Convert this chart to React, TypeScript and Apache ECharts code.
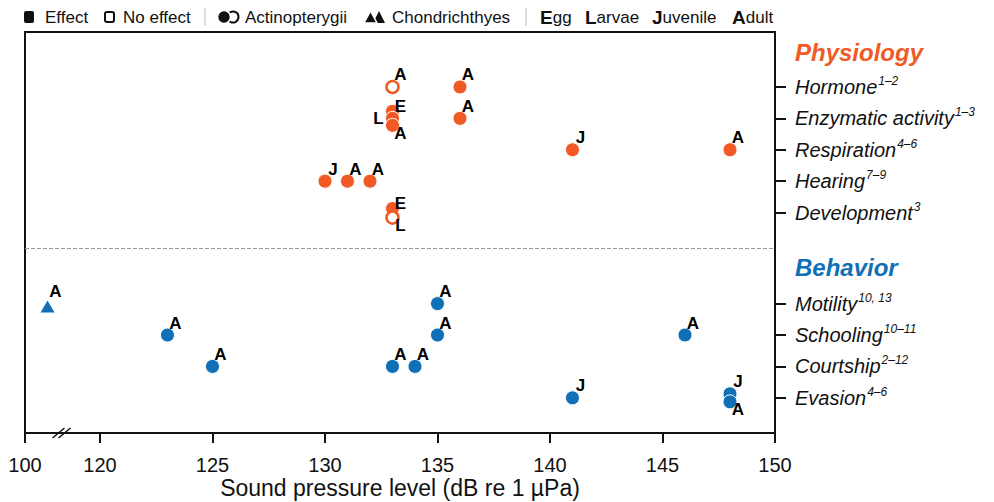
import React, { useEffect, useRef } from "react";
import * as echarts from "echarts";

// ---------- data ----------
const physioRows = ["Hormone", "Enzymatic activity", "Respiration", "Hearing", "Development"];
const physioRefs = ["1–2", "1–3", "4–6", "7–9", "3"];
const behavRows = ["Motility", "Schooling", "Courtship", "Evasion"];
const behavRefs = ["10, 13", "10–11", "2–12", "4–6"];

const physioLevel = [133, 136, 133, 133, 133, 136, 141, 148, 130, 131, 132, 133, 133];
const physioRow = [0, 0, 1, 1, 1, 1, 2, 2, 3, 3, 3, 4, 4];
const physioStage = ["A", "A", "E", "L", "A", "A", "J", "A", "J", "A", "A", "E", "L"];
const physioEffect = [false, true, true, true, true, true, true, true, true, true, true, true, false];

const behavLevel = [106, 135, 123, 135, 146, 125, 133, 134, 141, 148, 148];
const behavRow = [0, 0, 1, 1, 1, 2, 2, 2, 3, 3, 3];
const behavStage = ["A", "A", "A", "A", "A", "A", "A", "A", "J", "J", "A"];
const behavEffect = [true, true, true, true, true, true, true, true, true, true, true];
const behavTaxon = ["chond", "actino", "actino", "actino", "actino", "actino", "actino", "actino", "actino", "actino", "actino"];

const xTickLabels = [100, 120, 125, 130, 135, 140, 145, 150];

// ---------- layout / style ----------
const ORANGE = "#F15A24";
const BLUE = "#0F70B7";
const INK = "#111111";
const FONT = "'Liberation Sans', Arial, sans-serif";

const physioRowPos = [1, 2, 3, 4, 5];
const behavRowPos = [7.9, 8.9, 9.9, 10.9];
const physioHeaderPos = -0.1;
const behavHeaderPos = 6.75;
const separatorPos = 6.15;
const Y_MIN = -0.75;
const Y_MAX = 12.02;

// overlap stacking (px) and label placement for crowded points
const physioJitter = [0, 0, -7, 0, 7, 0, 0, 0, 0, 0, 0, -4, 5];
const physioLabelPos = ["ur", "ur", "r", "l", "br", "ur", "ur", "ur", "ur", "ur", "ur", "r", "br"];
const behavJitter = [3, 0, 0, 0, 0, 0, 0, 0, 0, -4, 4];
const behavLabelPos = ["tri", "ur", "ur", "ur", "ur", "ur", "ur", "ur", "ur", "ur", "br"];
const LABEL_OFFSETS: Record<string, number[]> = {
  ur: [8, -12],
  r: [8, -5],
  l: [-14, 0],
  br: [8, 8],
  tri: [8, -15],
};

// broken x axis: 100..120 compressed
const LOW_SPAN = 3.333;
const tx = (v: number) => (v >= 120 ? v : 120 - ((120 - v) * LOW_SPAN) / 20);
const X_MIN = tx(100);

function makeItem(level: number, rowPos: number, stage: string, effect: boolean, color: string, jitter: number, lpos: string, taxon: string) {
  const isTri = taxon === "chond";
  return {
    value: [tx(level), rowPos, stage],
    symbol: isTri ? "triangle" : "circle",
    symbolSize: isTri ? [14, 12] : effect ? 14 : 12,
    symbolOffset: [0, jitter],
    itemStyle: effect
      ? { color, borderColor: "#ffffff", borderWidth: isTri ? 0 : 1, opacity: 1 }
      : { color: "#ffffff", borderColor: color, borderWidth: 2.5, opacity: 1 },
    label: { offset: LABEL_OFFSETS[lpos] },
  };
}

const yLabelValues = [physioHeaderPos, ...physioRowPos, behavHeaderPos, ...behavRowPos];
const yLabelTexts = [
  "{ph|Physiology}",
  ...physioRows.map((r, i) => `{n|${r}}{s|${physioRefs[i]}}`),
  "{bh|Behavior}",
  ...behavRows.map((r, i) => `{n|${r}}{s|${behavRefs[i]}}`),
];

export default function App() {
  const ref = useRef<HTMLDivElement>(null);
  useEffect(() => {
    const chart = echarts.init(ref.current!, null, { renderer: "svg" });
    const physioData = physioLevel.map((lv, i) =>
      makeItem(lv, physioRowPos[physioRow[i]], physioStage[i], physioEffect[i], ORANGE, physioJitter[i], physioLabelPos[i], "actino")
    );
    const behavData = behavLevel.map((lv, i) =>
      makeItem(lv, behavRowPos[behavRow[i]], behavStage[i], behavEffect[i], BLUE, behavJitter[i], behavLabelPos[i], behavTaxon[i])
    );
    const pointLabel = {
      show: true,
      position: "inside",
      formatter: (p: any) => p.value[2],
      fontSize: 17,
      fontWeight: "bold",
      color: "#000000",
      opacity: 1,
      fontFamily: FONT,
    };
    const option: any = {
      animation: false,
      textStyle: { fontFamily: FONT },
      grid: {
        left: 25, right: 219, top: 32, bottom: 69,
        containLabel: false, outerBoundsMode: "none",
        show: true, borderColor: INK, borderWidth: 2,
      },
      xAxis: {
        type: "value",
        min: X_MIN,
        max: 150,
        axisLine: { show: true, onZero: false, lineStyle: { color: INK, width: 2 } },
        axisTick: { show: true, customValues: xTickLabels.map(tx), length: 10, lineStyle: { color: INK, width: 2 } },
        axisLabel: {
          customValues: xTickLabels.map(tx),
          fontSize: 20,
          color: INK,
          margin: 22,
          fontFamily: FONT,
          formatter: (v: number) => {
            let best = xTickLabels[0];
            for (const tk of xTickLabels) if (Math.abs(tx(tk) - v) < Math.abs(tx(best) - v)) best = tk;
            return String(best);
          },
        },
        splitLine: { show: false },
        name: "Sound pressure level (dB re 1 µPa)",
        nameLocation: "middle",
        nameGap: 43,
        nameMoveOverlap: false,
        nameTextStyle: { fontSize: 23, lineHeight: 23, color: INK, fontFamily: FONT },
      },
      yAxis: {
        type: "value",
        position: "right",
        inverse: true,
        min: Y_MIN,
        max: Y_MAX,
        axisLine: { show: true, onZero: false, lineStyle: { color: INK, width: 2 } },
        axisTick: { show: true, customValues: [...physioRowPos, ...behavRowPos], length: 11, lineStyle: { color: INK, width: 2 } },
        axisLabel: {
          customValues: yLabelValues,
          margin: 20,
          align: "left",
          formatter: (v: number) => {
            let bi = 0;
            yLabelValues.forEach((yv, i) => {
              if (Math.abs(yv - v) < Math.abs(yLabelValues[bi] - v)) bi = i;
            });
            return yLabelTexts[bi];
          },
          rich: {
            n: { fontSize: 20, fontStyle: "italic", color: INK, fontFamily: FONT, lineHeight: 24 },
            s: { fontSize: 12, fontStyle: "italic", color: INK, fontFamily: FONT, verticalAlign: "top", lineHeight: 14, padding: [0, 0, 0, 1] },
            ph: { fontSize: 24, fontStyle: "italic", fontWeight: "bold", color: ORANGE, fontFamily: FONT },
            bh: { fontSize: 24, fontStyle: "italic", fontWeight: "bold", color: BLUE, fontFamily: FONT },
          },
        },
        splitLine: { show: false },
      },
      series: [
        {
          type: "scatter",
          name: "Physiology",
          data: physioData,
          label: pointLabel,
          itemStyle: { opacity: 1 },
          emphasis: { disabled: true },
          markLine: {
            silent: true,
            symbol: "none",
            label: { show: false },
            lineStyle: { type: "dashed", color: "#999999", width: 1 },
            data: [{ yAxis: separatorPos }],
          },
        },
        {
          type: "scatter",
          name: "Behavior",
          data: behavData,
          label: pointLabel,
          itemStyle: { opacity: 1 },
          emphasis: { disabled: true },
        },
      ],
    };
    chart.setOption(option);

    const [bx, by] = chart.convertToPixel({ gridIndex: 0 }, [tx(110), Y_MAX]) as number[];
    const ty = 17;
    const txt = (x: number, text: string, extra: any = {}) => ({
      type: "text",
      x,
      y: ty,
      style: { text, fontSize: 17, fill: INK, fontFamily: FONT, verticalAlign: "middle", ...extra },
    });
    const stage = (x: number, first: string, rest: string) => ({
      type: "text",
      x,
      y: ty,
      style: {
        text: `{b|${first}}{n|${rest}}`,
        verticalAlign: "middle",
        rich: {
          b: { fontSize: 19, fontWeight: "bold", fill: INK, fontFamily: FONT },
          n: { fontSize: 17, fill: INK, fontFamily: FONT },
        },
      },
    });
    chart.setOption({
      graphic: [
        { type: "rect", shape: { x: 24, y: 11, width: 10, height: 12, r: 2 }, style: { fill: INK } },
        txt(45, "Effect"),
        { type: "rect", shape: { x: 105, y: 12, width: 9, height: 10, r: 2 }, style: { fill: "none", stroke: INK, lineWidth: 2 } },
        txt(123, "No effect"),
        { type: "line", shape: { x1: 205, y1: 8, x2: 205, y2: 26 }, style: { stroke: "#bbbbbb", lineWidth: 1 } },
        { type: "circle", shape: { cx: 233, cy: ty, r: 5.5 }, style: { fill: "#ffffff", stroke: INK, lineWidth: 2 } },
        { type: "circle", shape: { cx: 224, cy: ty, r: 6.5 }, style: { fill: INK, stroke: "#ffffff", lineWidth: 1.5 } },
        txt(245, "Actinopterygii"),
        { type: "polygon", shape: { points: [[373, 23], [379, 11], [385, 23]] }, style: { fill: INK } },
        { type: "polygon", shape: { points: [[364, 23], [370.5, 11], [377, 23]] }, style: { fill: INK, stroke: "#ffffff", lineWidth: 1.5 } },
        txt(392, "Chondrichthyes"),
        { type: "line", shape: { x1: 526, y1: 8, x2: 526, y2: 26 }, style: { stroke: "#bbbbbb", lineWidth: 1 } },
        stage(540, "E", "gg"),
        stage(585, "L", "arvae"),
        stage(652, "J", "uvenile"),
        stage(732, "A", "dult"),
        { type: "line", shape: { x1: bx - 10, y1: by + 5, x2: bx + 2, y2: by - 5 }, style: { stroke: INK, lineWidth: 1.5 } },
        { type: "line", shape: { x1: bx - 4, y1: by + 5, x2: bx + 8, y2: by - 5 }, style: { stroke: INK, lineWidth: 1.5 } },
      ],
    });
    return () => chart.dispose();
  }, []);
  return <div ref={ref} style={{ position: "absolute", left: 0, top: 0, width: 994, height: 502 }} />;
}
